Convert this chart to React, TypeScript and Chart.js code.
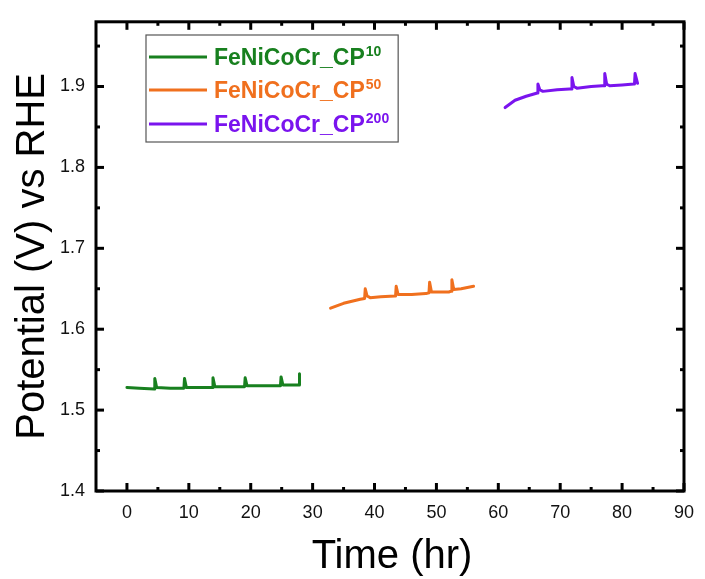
import React, { useEffect, useRef } from "react";
import { Chart, registerables } from "chart.js";

Chart.register(...registerables);

// ---- data ----
const greenX = [0, 2, 4.4, 4.5, 4.8, 7, 9.2, 9.3, 9.6, 12, 13.8, 13.9, 14.2, 17, 19.0, 19.1, 19.4, 22, 24.8, 24.9, 25.2, 27, 27.8, 27.85, 27.9];
const greenY = [1.528, 1.527, 1.526, 1.539, 1.528, 1.527, 1.527, 1.539, 1.528, 1.528, 1.528, 1.540, 1.529, 1.529, 1.529, 1.540, 1.530, 1.530, 1.530, 1.541, 1.531, 1.531, 1.531, 1.545, 1.544];

const orangeX = [32.9, 35, 37.7, 38.4, 38.5, 38.8, 39.3, 41, 43.3, 43.4, 43.5, 43.8, 46, 48.3, 48.8, 48.9, 49.2, 50.5, 52.0, 52.4, 52.5, 52.8, 54, 56.0];
const orangeY = [1.626, 1.632, 1.637, 1.638, 1.650, 1.641, 1.639, 1.640, 1.641, 1.641, 1.653, 1.643, 1.643, 1.644, 1.645, 1.658, 1.646, 1.646, 1.646, 1.647, 1.661, 1.649, 1.650, 1.653];

const purpleX = [61.1, 62.7, 64.5, 66.3, 66.4, 66.7, 67.2, 69.5, 71.5, 71.8, 71.9, 72.2, 72.7, 75, 76.8, 77.1, 77.2, 77.5, 78.0, 80, 81.9, 82.0, 82.1, 82.5];
const purpleY = [1.874, 1.883, 1.888, 1.892, 1.903, 1.896, 1.894, 1.896, 1.897, 1.897, 1.911, 1.900, 1.898, 1.900, 1.901, 1.901, 1.916, 1.903, 1.901, 1.902, 1.903, 1.903, 1.916, 1.904];

const seriesNames = ["FeNiCoCr_CP", "FeNiCoCr_CP", "FeNiCoCr_CP"];
const seriesSup = ["10", "50", "200"];
const seriesColors = ["#18801F", "#F0701E", "#7A14EE"];

const xTicks = [0, 10, 20, 30, 40, 50, 60, 70, 80, 90];
const xMinor = [5, 15, 25, 35, 45, 55, 65, 75, 85];
const yTicks = [1.4, 1.5, 1.6, 1.7, 1.8, 1.9];
const yMinor = [1.45, 1.55, 1.65, 1.75, 1.85, 1.95];

const xTitle = "Time (hr)";
const yTitle = "Potential (V) vs RHE";

const FONT = "'Liberation Sans', Arial, sans-serif";

const toPts = (xs: number[], ys: number[]) => xs.map((x, i) => ({ x, y: ys[i] }));

const framePlugin = {
  id: "frameAndLegend",
  afterDraw(chart: any) {
    const { ctx, chartArea: a, scales } = chart;
    const x = scales.x;
    const y = scales.y;
    ctx.save();
    ctx.strokeStyle = "#000";
    ctx.lineWidth = 3;
    ctx.lineCap = "butt";
    ctx.strokeRect(a.left, a.top, a.right - a.left, a.bottom - a.top);
    const seg = (x1: number, y1: number, x2: number, y2: number) => {
      ctx.beginPath();
      ctx.moveTo(x1, y1);
      ctx.lineTo(x2, y2);
      ctx.stroke();
    };
    const maj = 8;
    const min = 4;
    xTicks.forEach((v) => {
      const p = x.getPixelForValue(v);
      seg(p, a.bottom, p, a.bottom - maj);
      seg(p, a.top, p, a.top + maj);
    });
    xMinor.forEach((v) => {
      const p = x.getPixelForValue(v);
      seg(p, a.bottom, p, a.bottom - min);
      seg(p, a.top, p, a.top + min);
    });
    yTicks.forEach((v) => {
      const p = y.getPixelForValue(v);
      seg(a.left, p, a.left + maj, p);
      seg(a.right, p, a.right - maj, p);
    });
    yMinor.forEach((v) => {
      const p = y.getPixelForValue(v);
      seg(a.left, p, a.left + min, p);
      seg(a.right, p, a.right - min, p);
    });

    // axis titles
    ctx.fillStyle = "#000";
    ctx.font = `40px ${FONT}`;
    ctx.textAlign = "center";
    ctx.textBaseline = "middle";
    ctx.fillText(xTitle, (a.left + a.right) / 2 + 2, 557);
    ctx.save();
    ctx.translate(33, (a.top + a.bottom) / 2);
    ctx.rotate(-Math.PI / 2);
    ctx.fillText(yTitle, 0, 0);
    ctx.restore();

    // legend
    const lx = 146;
    const ly = 35;
    const rowY = [57, 90, 124];
    ctx.font = `bold 23px ${FONT}`;
    let maxW = 0;
    const mainW = seriesNames.map((n) => ctx.measureText(n).width);
    ctx.font = `bold 14px ${FONT}`;
    const supW = seriesSup.map((s) => ctx.measureText(s).width);
    mainW.forEach((w, i) => (maxW = Math.max(maxW, w + supW[i])));
    const textX = 214;
    const boxW = textX + maxW + 10 - lx;
    ctx.lineWidth = 1.2;
    ctx.strokeStyle = "#555";
    ctx.strokeRect(lx, ly, boxW, 107);
    seriesNames.forEach((n, i) => {
      const yy = rowY[i];
      ctx.strokeStyle = seriesColors[i];
      ctx.lineWidth = 3;
      seg(149, yy, 207, yy);
      ctx.fillStyle = seriesColors[i];
      ctx.textAlign = "left";
      ctx.textBaseline = "alphabetic";
      ctx.font = `bold 23px ${FONT}`;
      ctx.fillText(n, textX, yy + 8);
      ctx.font = `bold 14px ${FONT}`;
      ctx.fillText(seriesSup[i], textX + mainW[i] + 1, yy - 1);
    });
    ctx.restore();
  },
};

export default function App() {
  const ref = useRef<HTMLCanvasElement | null>(null);
  useEffect(() => {
    if (!ref.current) return;
    const chart = new Chart(ref.current, {
      type: "line",
      data: {
        datasets: [
          { label: seriesNames[0] + seriesSup[0], data: toPts(greenX, greenY), borderColor: seriesColors[0] },
          { label: seriesNames[1] + seriesSup[1], data: toPts(orangeX, orangeY), borderColor: seriesColors[1] },
          { label: seriesNames[2] + seriesSup[2], data: toPts(purpleX, purpleY), borderColor: seriesColors[2] },
        ].map((d) => ({
          ...d,
          borderWidth: 3,
          pointRadius: 0,
          tension: 0,
          fill: false,
          borderJoinStyle: "round" as const,
          borderCapStyle: "round" as const,
        })),
      },
      options: {
        animation: false,
        responsive: false,
        devicePixelRatio: 1,
        layout: { padding: { top: 14, right: 14, left: 0, bottom: 0 } },
        plugins: { legend: { display: false }, tooltip: { enabled: false } },
        scales: {
          x: {
            type: "linear",
            min: -5,
            max: 90,
            grid: { display: false, drawTicks: false },
            border: { display: false },
            afterBuildTicks: (s: any) => {
              s.ticks = xTicks.map((v) => ({ value: v }));
            },
            afterFit: (s: any) => {
              s.height = 88;
            },
            ticks: {
              padding: 11,
              color: "#111",
              font: { family: FONT, size: 18 },
              maxRotation: 0,
              callback: (v: any) => String(v),
            },
          },
          y: {
            type: "linear",
            min: 1.4,
            max: 1.98,
            grid: { display: false, drawTicks: false },
            border: { display: false },
            afterBuildTicks: (s: any) => {
              s.ticks = yTicks.map((v) => ({ value: v }));
            },
            afterFit: (s: any) => {
              s.width = 96;
            },
            ticks: {
              padding: 11,
              color: "#111",
              font: { family: FONT, size: 18 },
              callback: (v: any) => Number(v).toFixed(1),
            },
          },
        },
      },
      plugins: [framePlugin],
    });
    return () => chart.destroy();
  }, []);
  return (
    <div style={{ position: "fixed", left: 0, top: 0, width: 705, height: 579, background: "#fff" }}>
      <canvas ref={ref} width={705} height={579} />
    </div>
  );
}
